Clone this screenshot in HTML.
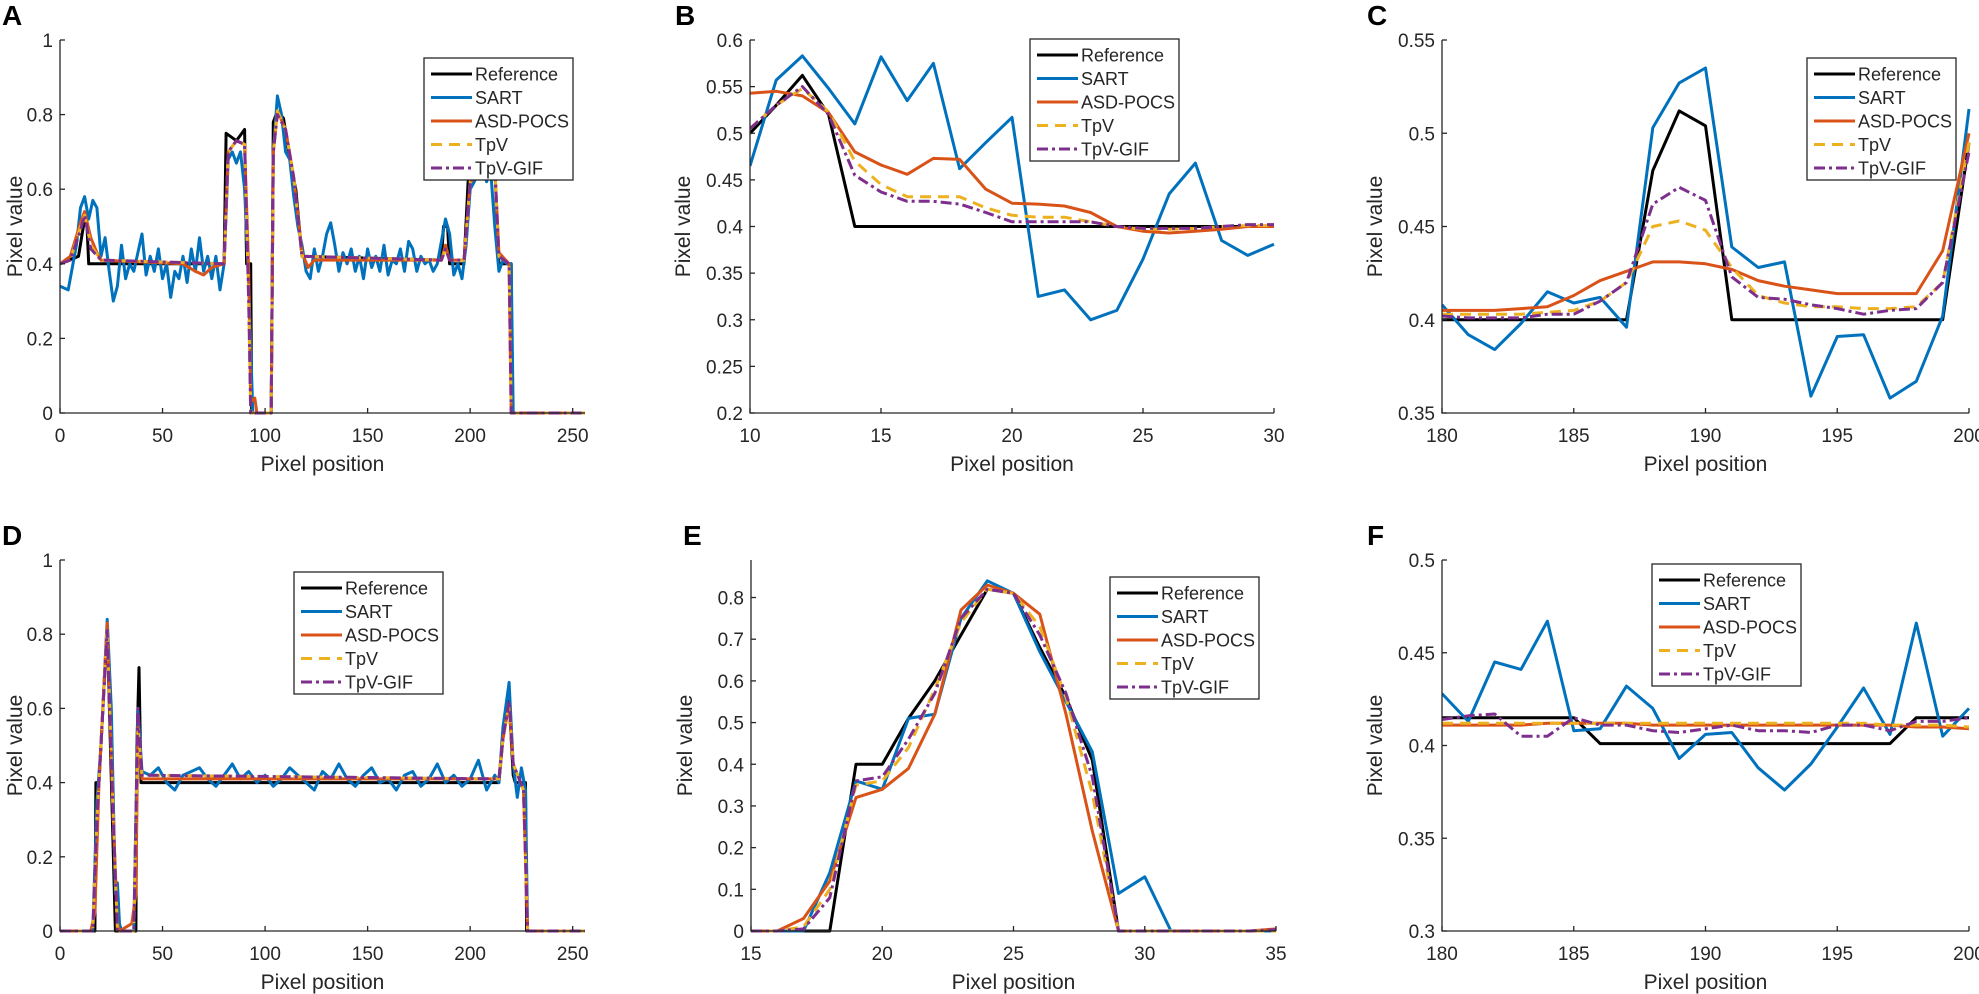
<!DOCTYPE html>
<html><head><meta charset="utf-8">
<style>
html,body{margin:0;padding:0;background:#fff;}
svg{display:block;font-family:"Liberation Sans",Arial,sans-serif;}
</style></head>
<body>
<svg id="fig" width="1979" height="994" viewBox="0 0 1979 994" xmlns="http://www.w3.org/2000/svg"></svg>
<script>
// ---------- Panel A data ----------
const aRefX=[0,9,12,13,14,80,81,86,90,91,93,93.5,103,104,106,109,113,115,118,186,187,189,190,197,199,203,212,214,220,220.5,256];
const aRefY=[0.4,0.42,0.52,0.52,0.4,0.4,0.75,0.73,0.76,0.4,0.4,0,0,0.78,0.81,0.79,0.65,0.6,0.42,0.41,0.5,0.5,0.4,0.4,0.62,0.66,0.66,0.4,0.4,0,0];
const aSartX=[0,4,8,10,12,14,16,18,20,22,24,26,28,30,32,34,36,38,40,42,44,46,48,50,52,54,56,58,60,62,64,66,68,70,72,74,76,78,80,82,84,86,88,90,92,94,103,104,106,108,110,112,114,116,118,120,122,124,126,128,130,132,134,136,138,140,142,144,146,148,150,152,154,156,158,160,162,164,166,168,170,172,174,176,178,180,182,184,186,188,190,192,194,196,198,200,202,204,206,208,210,212,214,216,218,220,221,256];
const aSartY=[0.34,0.33,0.45,0.55,0.58,0.52,0.57,0.55,0.42,0.47,0.38,0.3,0.34,0.45,0.36,0.4,0.38,0.43,0.48,0.37,0.42,0.38,0.44,0.36,0.4,0.31,0.38,0.36,0.42,0.35,0.44,0.38,0.47,0.38,0.42,0.36,0.42,0.33,0.4,0.68,0.7,0.67,0.7,0.6,0.35,0,0,0.7,0.85,0.8,0.7,0.68,0.58,0.5,0.45,0.38,0.36,0.44,0.38,0.42,0.48,0.51,0.45,0.38,0.43,0.4,0.44,0.38,0.42,0.36,0.44,0.39,0.42,0.38,0.45,0.37,0.41,0.4,0.44,0.38,0.46,0.44,0.38,0.42,0.4,0.41,0.38,0.4,0.46,0.52,0.48,0.37,0.4,0.36,0.45,0.6,0.62,0.64,0.66,0.62,0.65,0.5,0.38,0.41,0.4,0.4,0,0];
const aAsdX=[0,5,10,12,15,18,20,60,66,70,74,80,82,86,90,92,93,95,96,103,104,106,110,114,118,121,124,186,188,190,197,200,212,214,219,220,256];
const aAsdY=[0.4,0.42,0.51,0.54,0.47,0.43,0.41,0.4,0.38,0.37,0.39,0.4,0.7,0.73,0.72,0.38,0.03,0.04,0,0,0.7,0.81,0.76,0.63,0.43,0.39,0.41,0.41,0.45,0.41,0.41,0.62,0.66,0.43,0.4,0,0];
const aTpvX=[0,5,10,12,15,20,80,82,86,90,92,93,103,104,106,110,114,118,186,188,190,197,200,212,214,219,220,256];
const aTpvY=[0.4,0.41,0.5,0.53,0.45,0.41,0.4,0.7,0.73,0.72,0.3,0,0,0.7,0.81,0.76,0.63,0.42,0.41,0.44,0.41,0.41,0.62,0.66,0.42,0.4,0,0];
const aGifX=[0,5,10,12,15,20,80,82,86,90,92,93,103,104,106,110,114,118,186,188,190,197,200,212,214,219,220,256];
const aGifY=[0.4,0.41,0.49,0.53,0.44,0.41,0.4,0.7,0.73,0.72,0.3,0,0,0.7,0.8,0.76,0.63,0.42,0.41,0.44,0.41,0.41,0.62,0.66,0.42,0.4,0,0];

// ---------- Panel B data (x = 10..30) ----------
const bX=[10,11,12,13,14,15,16,17,18,19,20,21,22,23,24,25,26,27,28,29,30];
const bRef=[0.50,0.53,0.562,0.52,0.40,0.40,0.40,0.40,0.40,0.40,0.40,0.40,0.40,0.40,0.40,0.40,0.40,0.40,0.40,0.40,0.40];
const bSart=[0.465,0.557,0.583,0.548,0.51,0.582,0.535,0.575,0.462,0.49,0.517,0.325,0.332,0.30,0.31,0.365,0.435,0.468,0.385,0.369,0.381];
const bAsd=[0.543,0.545,0.54,0.522,0.48,0.466,0.456,0.473,0.472,0.44,0.425,0.424,0.422,0.415,0.40,0.395,0.393,0.395,0.397,0.40,0.40];
const bTpv=[0.505,0.53,0.548,0.523,0.47,0.445,0.432,0.432,0.432,0.42,0.412,0.41,0.41,0.405,0.40,0.397,0.397,0.398,0.40,0.401,0.401];
const bGif=[0.505,0.53,0.55,0.52,0.455,0.437,0.427,0.427,0.424,0.415,0.405,0.405,0.405,0.405,0.40,0.398,0.398,0.398,0.40,0.402,0.402];

// ---------- Panel C data (x = 180..200) ----------
const cX=[180,181,182,183,184,185,186,187,188,189,190,191,192,193,194,195,196,197,198,199,200];
const cRef=[0.40,0.40,0.40,0.40,0.40,0.40,0.40,0.40,0.48,0.512,0.504,0.40,0.40,0.40,0.40,0.40,0.40,0.40,0.40,0.40,0.495];
const cSart=[0.408,0.392,0.384,0.398,0.415,0.409,0.412,0.396,0.503,0.527,0.535,0.439,0.428,0.431,0.359,0.391,0.392,0.358,0.367,0.402,0.513];
const cAsd=[0.405,0.405,0.405,0.406,0.407,0.413,0.421,0.426,0.431,0.431,0.430,0.427,0.421,0.418,0.416,0.414,0.414,0.414,0.414,0.437,0.500];
const cTpv=[0.403,0.403,0.403,0.403,0.404,0.405,0.41,0.42,0.45,0.453,0.448,0.428,0.413,0.409,0.407,0.407,0.406,0.406,0.407,0.42,0.495];
const cGif=[0.402,0.401,0.401,0.401,0.403,0.403,0.41,0.42,0.462,0.471,0.464,0.423,0.412,0.411,0.408,0.406,0.403,0.405,0.406,0.42,0.49];

// ---------- Panel D data ----------
const dRefX=[0,17,17.5,19,23,27,37,37.5,38.5,39.5,214,216,219,221,222,227,227.5,256];
const dRefY=[0,0,0.4,0.4,0.82,0,0,0.5,0.71,0.4,0.4,0.52,0.62,0.42,0.4,0.4,0,0];
const dSartX=[0,16,18,20,23,25,27,28,29,30,36,38,40,44,48,52,56,60,64,68,72,76,80,84,88,92,96,100,104,108,112,116,120,124,128,132,136,140,144,148,152,156,160,164,168,172,176,180,184,188,192,196,200,204,208,212,214,216,219,221,223,225,227,228,256];
const dSartY=[0,0,0.35,0.5,0.84,0.6,0.1,0.13,0.02,0,0,0.6,0.43,0.42,0.44,0.4,0.38,0.42,0.43,0.44,0.41,0.39,0.42,0.45,0.41,0.43,0.4,0.42,0.39,0.41,0.44,0.42,0.4,0.38,0.43,0.41,0.45,0.41,0.39,0.42,0.44,0.4,0.41,0.38,0.42,0.43,0.39,0.41,0.45,0.4,0.42,0.39,0.41,0.46,0.38,0.42,0.4,0.55,0.67,0.45,0.36,0.44,0.38,0,0];
const dAsdX=[0,15,17,19,23,26,28,29,35,37,38,40,214,216,219,221,226,228,256];
const dAsdY=[0,0,0.05,0.4,0.83,0.3,0.02,0,0.02,0.1,0.55,0.41,0.41,0.52,0.61,0.45,0.38,0,0];
const dTpvX=[0,16,18,23,26,28,36,38,40,214,216,219,221,226,228,256];
const dTpvY=[0,0,0.3,0.82,0.3,0,0,0.55,0.42,0.41,0.52,0.61,0.45,0.38,0,0];
const dGifX=[0,16,18,23,26,28,36,38,40,214,216,219,221,226,228,256];
const dGifY=[0,0,0.3,0.81,0.3,0,0,0.6,0.42,0.41,0.52,0.62,0.45,0.38,0,0];

// ---------- Panel E data (x = 15..35) ----------
const eX=[15,16,17,18,19,20,21,22,23,24,25,26,27,28,29,30,31,32,33,34,35];
const eRef=[0,0,0,0,0.4,0.4,0.51,0.6,0.71,0.82,0.81,0.68,0.56,0.41,0,0,0,0,0,0,0];
const eSart=[0,0,0,0.14,0.36,0.34,0.51,0.52,0.75,0.84,0.81,0.67,0.55,0.43,0.09,0.13,0,0,0,0,0];
const eAsd=[0,0,0.03,0.12,0.32,0.34,0.39,0.52,0.77,0.83,0.81,0.76,0.52,0.24,0,0,0,0,0,0,0.005];
const eTpv=[0,0,0.01,0.1,0.35,0.36,0.44,0.58,0.74,0.82,0.81,0.73,0.56,0.33,0,0,0,0,0,0,0];
const eGif=[0,0,0.005,0.08,0.36,0.37,0.46,0.57,0.75,0.82,0.81,0.71,0.57,0.37,0,0,0,0,0,0,0.003];

// ---------- Panel F data (x = 180..200) ----------
const fX=[180,181,182,183,184,185,186,187,188,189,190,191,192,193,194,195,196,197,198,199,200];
const fRef=[0.415,0.415,0.415,0.415,0.415,0.415,0.401,0.401,0.401,0.401,0.401,0.401,0.401,0.401,0.401,0.401,0.401,0.401,0.415,0.415,0.415];
const fSart=[0.428,0.413,0.445,0.441,0.467,0.408,0.409,0.432,0.420,0.393,0.406,0.407,0.388,0.376,0.39,0.41,0.431,0.406,0.466,0.405,0.42];
const fAsd=[0.411,0.411,0.411,0.411,0.412,0.412,0.412,0.412,0.411,0.411,0.411,0.411,0.411,0.411,0.411,0.411,0.411,0.411,0.410,0.410,0.409];
const fTpv=[0.412,0.412,0.412,0.412,0.412,0.412,0.412,0.412,0.412,0.412,0.412,0.412,0.412,0.412,0.412,0.412,0.412,0.411,0.411,0.411,0.410];
const fGif=[0.414,0.416,0.417,0.405,0.405,0.415,0.411,0.411,0.408,0.407,0.409,0.411,0.408,0.408,0.407,0.411,0.411,0.408,0.413,0.413,0.415];

// ---------- ticks ----------
const ticksA_X=[0,50,100,150,200,250];
const ticksA_Y=[0,0.2,0.4,0.6,0.8,1];
const ticksB_X=[10,15,20,25,30];
const ticksB_Y=[0.2,0.25,0.3,0.35,0.4,0.45,0.5,0.55,0.6];
const ticksC_X=[180,185,190,195,200];
const ticksC_Y=[0.35,0.4,0.45,0.5,0.55];
const ticksE_X=[15,20,25,30,35];
const ticksE_Y=[0,0.1,0.2,0.3,0.4,0.5,0.6,0.7,0.8];
const ticksF_Y=[0.3,0.35,0.4,0.45,0.5];
const legendLabels=["Reference","SART","ASD-POCS","TpV","TpV-GIF"];

const NS="http://www.w3.org/2000/svg";
const svg=document.getElementById('fig');
const COLORS=["#000000","#0072BD","#D95319","#EDB120","#7E2F8E"];
const DASH=[null,null,null,"11,7","11,4,3,4"];
const SNAMES=["reference","sart","asd-pocs","tpv","tpv-gif"];
function mk(tag,attrs,parent){const e=document.createElementNS(NS,tag);for(const k in attrs)e.setAttribute(k,attrs[k]);(parent||svg).appendChild(e);return e;}

function panel(p){
  const g=mk('g',{});
  
  
  const sx=v=>p.x0+(v-p.xmin)/(p.xmax-p.xmin)*(p.x1-p.x0);
  const sy=v=>p.y0-(v-p.ymin)/(p.ymax-p.ymin)*(p.y0-p.y1);
  const clipId='clip'+p.id;
  const cp=mk('clipPath',{id:clipId},g);
  mk('rect',{x:p.x0,y:p.y1-2,width:p.x1-p.x0+2,height:p.y0-p.y1+4},cp);
  // letter
  const L=mk('text',{x:p.lx,y:p.ly,'font-size':28,'font-weight':'bold',fill:'#000'},g);
  L.textContent=p.id;
  
  
  // series
  const sg=mk('g',{'clip-path':'url(#'+clipId+')'},g);
  p.series.forEach((s,i)=>{
    const d=s.xs.map((xv,j)=>(j?'L':'M')+sx(xv).toFixed(1)+','+sy(s.ys[j]).toFixed(1)).join('');
    const a={d:d,fill:'none',stroke:COLORS[i],'stroke-width':3,'stroke-linejoin':'round'};
    if(DASH[i])a['stroke-dasharray']=DASH[i];
    const path=mk('path',a,sg);
    
    
  });
  // axes
  const ax=mk('path',{d:`M${p.x0},${p.y1}V${p.y0}H${p.x1}`,fill:'none',stroke:'#262626','stroke-width':1.3},g);
  
  
  p.xt.forEach(t=>{
    const X=sx(t);
    mk('line',{x1:X,x2:X,y1:p.y0,y2:p.y0-5,stroke:'#262626','stroke-width':1.3},g);
    const tx=mk('text',{x:X,y:p.y0+29,'font-size':19,'text-anchor':'middle',fill:'#262626'},g);
    tx.textContent=String(t);
    
    
  });
  p.yt.forEach(t=>{
    const Y=sy(t);
    mk('line',{x1:p.x0,x2:p.x0+5,y1:Y,y2:Y,stroke:'#262626','stroke-width':1.3},g);
    const ty=mk('text',{x:p.x0-7,y:Y+7,'font-size':19,'text-anchor':'end',fill:'#262626'},g);
    ty.textContent=String(t);
    
    
  });
  const xl=mk('text',{x:(p.x0+p.x1)/2,y:p.y0+58,'font-size':21,'text-anchor':'middle',fill:'#262626'},g);
  xl.textContent='Pixel position';
  
  
  const ycy=(p.y0+p.y1)/2;
  const yl=mk('text',{x:p.ylx,y:ycy,'font-size':21,'text-anchor':'middle',fill:'#262626',transform:`rotate(-90 ${p.ylx} ${ycy})`},g);
  yl.textContent='Pixel value';
  
  
  // legend
  const lg=mk('g',{},g);
  
  
  mk('rect',{x:p.legX,y:p.legY,width:149,height:122,fill:'#fff',stroke:'#262626','stroke-width':1.3},lg);
  legendLabels.forEach((lab,i)=>{
    const yy=p.legY+16+i*23.5;
    const a={x1:p.legX+7,x2:p.legX+48,y1:yy,y2:yy,stroke:COLORS[i],'stroke-width':3};
    if(DASH[i])a['stroke-dasharray']=DASH[i];
    const ln=mk('line',a,lg);
    
    
    const t=mk('text',{x:p.legX+51,y:yy+6.5,'font-size':18,fill:'#262626'},lg);
    t.textContent=lab;
    
    
  });
}
const ser=(xs,arr)=>arr.map(ys=>({xs:xs,ys:ys}));
const TOP0=413,TOP1=40,BOT0=931,BOT1=560;
panel({id:'A',x0:60,x1:585,xmin:0,xmax:256,ymin:0,ymax:1,y0:TOP0,y1:TOP1,lx:2,ly:25,ylx:22,legX:424,legY:58,xt:ticksA_X,yt:ticksA_Y,
  series:[{xs:aRefX,ys:aRefY},{xs:aSartX,ys:aSartY},{xs:aAsdX,ys:aAsdY},{xs:aTpvX,ys:aTpvY},{xs:aGifX,ys:aGifY}]});
panel({id:'B',x0:750,x1:1274,xmin:10,xmax:30,ymin:0.2,ymax:0.6,y0:TOP0,y1:TOP1,lx:675,ly:25,ylx:690,legX:1030,legY:39,xt:ticksB_X,yt:ticksB_Y,
  series:ser(bX,[bRef,bSart,bAsd,bTpv,bGif])});
panel({id:'C',x0:1442,x1:1969,xmin:180,xmax:200,ymin:0.35,ymax:0.55,y0:TOP0,y1:TOP1,lx:1367,ly:25,ylx:1382,legX:1807,legY:58,xt:ticksC_X,yt:ticksC_Y,
  series:ser(cX,[cRef,cSart,cAsd,cTpv,cGif])});
panel({id:'D',x0:60,x1:585,xmin:0,xmax:256,ymin:0,ymax:1,y0:BOT0,y1:BOT1,lx:2,ly:545,ylx:22,legX:294,legY:572,xt:ticksA_X,yt:ticksA_Y,
  series:[{xs:dRefX,ys:dRefY},{xs:dSartX,ys:dSartY},{xs:dAsdX,ys:dAsdY},{xs:dTpvX,ys:dTpvY},{xs:dGifX,ys:dGifY}]});
panel({id:'E',x0:751,x1:1276,xmin:15,xmax:35,ymin:0,ymax:0.89,y0:BOT0,y1:BOT1,lx:683,ly:545,ylx:692,legX:1110,legY:577,xt:ticksE_X,yt:ticksE_Y,
  series:ser(eX,[eRef,eSart,eAsd,eTpv,eGif])});
panel({id:'F',x0:1442,x1:1969,xmin:180,xmax:200,ymin:0.3,ymax:0.5,y0:BOT0,y1:BOT1,lx:1367,ly:545,ylx:1382,legX:1652,legY:564,xt:ticksC_X,yt:ticksF_Y,
  series:ser(fX,[fRef,fSart,fAsd,fTpv,fGif])});
</script>
</body></html>
